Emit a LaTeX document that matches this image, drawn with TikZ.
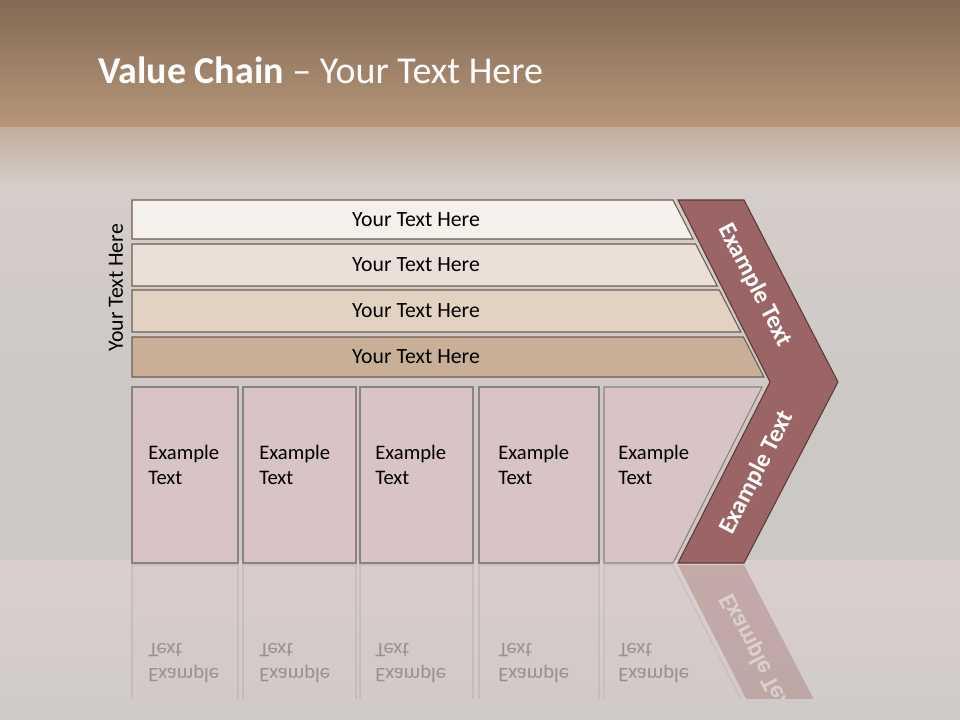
\documentclass[tikz,border=0pt]{standalone}
\usepackage{fontspec}
\setmainfont{Carlito}
\definecolor{topBrown}{HTML}{826A54}
\definecolor{midBrown}{HTML}{B8977A}
\definecolor{fadeTop}{HTML}{C4AD9E}
\definecolor{bgLight}{HTML}{D5CDCA}
\definecolor{bgGrey}{HTML}{CCC8C6}
\definecolor{floorTop}{HTML}{DACFCE}
\definecolor{floorBot}{HTML}{CFCBC9}
\definecolor{barA}{HTML}{F4F0EC}
\definecolor{barB}{HTML}{EBE0D8}
\definecolor{barC}{HTML}{E2D2C2}
\definecolor{barD}{HTML}{C9AF97}
\definecolor{barEdge}{HTML}{6E5D52}
\definecolor{cellFill}{HTML}{D8C4C5}
\definecolor{cellEdge}{HTML}{8C8283}
\definecolor{chevFill}{HTML}{9B6565}
\definecolor{chevEdge}{HTML}{5C3A3A}
\begin{document}
\begin{tikzpicture}[x=0.75pt, y=-0.75pt,
    lbl/.style={font=\fontsize{15.5}{18.75}\selectfont, text=black},
    barlbl/.style={font=\fontsize{16.3}{19.5}\selectfont, text=black},
    barbox/.style={draw=barEdge, line width=0.8pt},
    cellbox/.style={draw=cellEdge, fill=cellFill, line width=0.8pt},
    chevron/.style={draw=chevEdge, fill=chevFill, line width=0.8pt},
    armtext/.style={font=\fontsize{18.5}{22}\selectfont\bfseries, text=white}]
    \useasboundingbox (0,0) rectangle (960,720);

    % Background
    \fill[bgGrey] (0,0) rectangle (960,720);
    \shade[top color=topBrown, bottom color=midBrown] (0,0) rectangle (960,128);
    \shade[top color=fadeTop, bottom color=bgLight] (0,128) rectangle (960,185);
    \shade[top color=bgLight, bottom color=bgGrey] (0,185) rectangle (960,420);
    \shade[top color=floorTop, bottom color=floorBot] (0,560) rectangle (960,720);

    % Title
    \node[anchor=base west, inner sep=0pt, text=white, font=\fontsize{28.5}{34}\selectfont] (title) at (98,84)
        {\textbf{Value Chain} -- Your Text Here};

    % Reflections on the floor
    \begin{scope}[shift={(0,1128)}, yscale=-1, transform shape]
        \clip (100,430) rectangle (860,564);
        \foreach \i/\xl/\xr/\xt in {1/132/238/148, 2/243/356/259, 3/360/473/375, 4/479/599/498} {
            \draw[cellbox, opacity=0.2] (\xl,387) rectangle (\xr,563);
            \node[lbl, align=left, anchor=west, inner sep=0pt, opacity=0.28] (refl\i) at (\xt,465) {Example\\Text};
        }
        \draw[cellbox, opacity=0.2] (604,387) -- (762,387) -- (673,563) -- (604,563) -- cycle;
        \node[lbl, align=left, anchor=west, inner sep=0pt, opacity=0.28] (refl5) at (618,465) {Example\\Text};
        \fill[chevFill, opacity=0.35] (678,563) -- (744,563) -- (838,382) -- (770,382) -- cycle;
        \node[armtext, rotate=62.7, opacity=0.45] (reflarm) at (757,473) {Example Text};
    \end{scope}

    % Side label
    \node[barlbl, rotate=90] (side) at (116,288) {Your Text Here};

    % Bars
    \foreach \i/\yt/\yb/\col in {1/200/239/barA, 2/244/286/barB, 3/290/332/barC, 4/337/377/barD} {
        \draw[barbox, fill=\col] (132,\yt) -- ({673+0.514*(\yt-200)},\yt)
            -- ({673+0.514*(\yb-200)},\yb) -- (132,\yb) -- cycle;
        \node[barlbl] (bar\i) at (416,{(\yt+\yb)/2}) {Your Text Here};
    }

    % Cells
    \foreach \i/\xl/\xr/\xt in {1/132/238/148, 2/243/356/259, 3/360/473/375, 4/479/599/498} {
        \draw[cellbox] (\xl,387) rectangle (\xr,563);
        \node[lbl, align=left, anchor=west, inner sep=0pt] (cell\i) at (\xt,465) {Example\\Text};
    }
    \draw[cellbox] (604,387) -- (762,387) -- (673,563) -- (604,563) -- cycle;
    \node[lbl, align=left, anchor=west, inner sep=0pt] (cell5) at (618,465) {Example\\Text};

    % Chevron
    \draw[chevron] (678,200) -- (744,200) -- (838,382) -- (744,563) -- (678,563) -- (770,382) -- cycle;
    \node[armtext, rotate=-62.7] (armtop) at (755,285) {Example Text};
    \node[armtext, rotate=62.7] (armbot) at (757,473) {Example Text};
\end{tikzpicture}
\end{document}
